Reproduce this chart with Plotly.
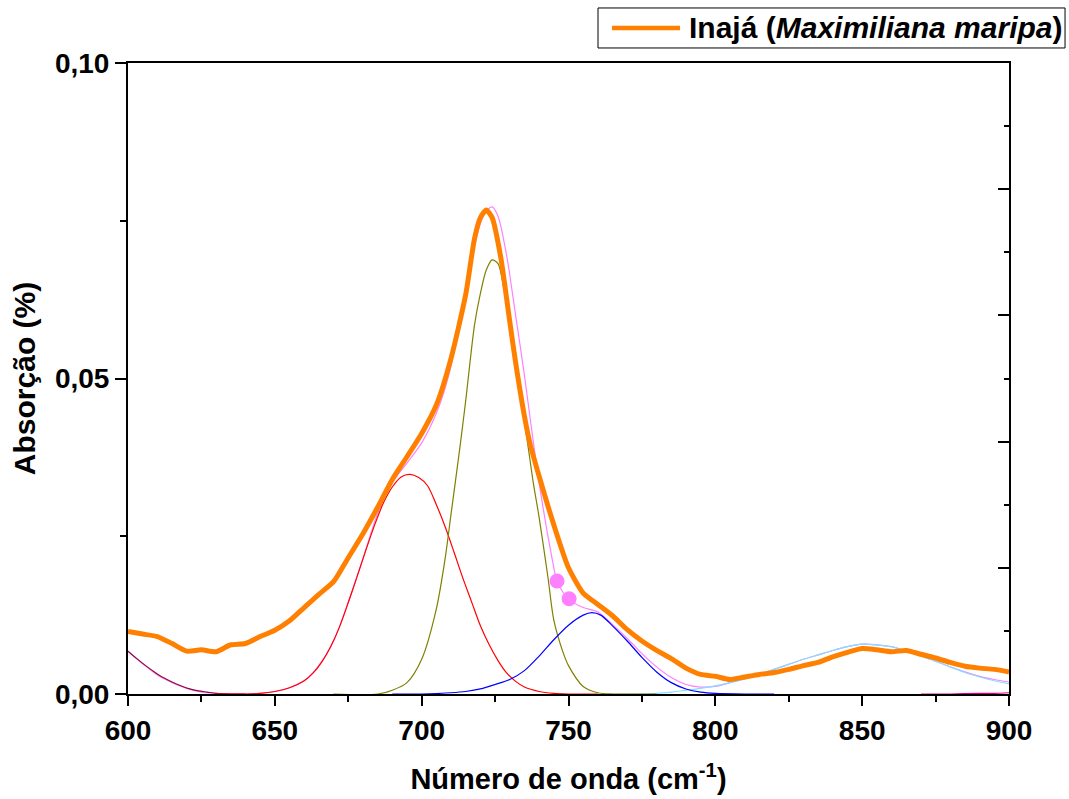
import plotly.graph_objects as go

# ---- data ----
orange_x = [600, 605, 610, 615, 620, 625, 630, 635, 640, 645, 650, 655, 660, 665, 670, 675, 680, 685,
            690, 695, 700, 705, 710, 715, 718, 720, 722, 724, 727, 730, 732, 735, 737, 740, 745, 750,
            755, 760, 765, 770, 775, 780, 785, 790, 795, 800, 805, 810, 815, 820, 825, 830, 835, 840,
            845, 850, 855, 860, 865, 870, 875, 880, 885, 890, 895, 900]
orange_y = [0.0099, 0.0095, 0.0091, 0.0080, 0.0068, 0.0070, 0.0067, 0.0078, 0.0080, 0.0091, 0.0101,
            0.0116, 0.0137, 0.0158, 0.0178, 0.0216, 0.0254, 0.0296, 0.0340, 0.0376, 0.0413, 0.0458,
            0.0532, 0.0633, 0.0722, 0.0755, 0.0767, 0.0755, 0.0690, 0.0590, 0.0525, 0.0440, 0.0395,
            0.0345, 0.0268, 0.0200, 0.0160, 0.0142, 0.0124, 0.0102, 0.0084, 0.0069, 0.0056, 0.0041,
            0.0031, 0.0028, 0.0023, 0.0027, 0.0031, 0.0034, 0.0039, 0.0045, 0.0050, 0.0059, 0.0066,
            0.0072, 0.0070, 0.0067, 0.0069, 0.0063, 0.0057, 0.0050, 0.0044, 0.0041, 0.0039, 0.0035]

wine_x = [600, 603, 606, 609, 612, 615, 618, 621, 624, 627, 630, 635, 640]
wine_y = [0.0068, 0.0056, 0.0045, 0.0035, 0.0026, 0.0019, 0.0013, 0.0008, 0.0005, 0.0003, 0.0001, 0.0, 0.0]

red_x = [630, 640, 645, 650, 655, 660, 663, 666, 669, 672, 675, 678, 681, 684, 687, 690, 693, 696,
         699, 702, 705, 708, 711, 714, 717, 720, 723, 726, 729, 732, 735, 740, 745, 750, 760]
red_y = [0.0, 0.0, 0.0001, 0.0004, 0.0010, 0.0021, 0.0033, 0.0051, 0.0075, 0.0106, 0.0145, 0.0186,
         0.0228, 0.0268, 0.0303, 0.0328, 0.0344, 0.0348, 0.0343, 0.0330, 0.0300, 0.0265, 0.0225,
         0.0184, 0.0146, 0.0108, 0.0078, 0.0053, 0.0033, 0.0020, 0.0011, 0.0004, 0.0001, 0.0, 0.0]

olive_x = [670, 685, 690, 695, 700, 705, 708, 710, 713, 715, 718, 720, 722, 724, 726, 728, 731, 734,
           736, 738, 740, 743, 745, 748, 750, 755, 760, 765, 780]
olive_y = [0.0, 0.0, 0.0006, 0.0018, 0.0055, 0.0135, 0.0215, 0.0285, 0.0390, 0.0465, 0.0585, 0.0635,
           0.0672, 0.0688, 0.0682, 0.0642, 0.0561, 0.0460, 0.0400, 0.0335, 0.0280, 0.0185, 0.0117,
           0.0068, 0.0045, 0.0012, 0.0002, 0.0, 0.0]

blue_x = [690, 700, 710, 715, 720, 725, 730, 735, 740, 745, 750, 755, 758, 761, 765, 770, 775, 780,
          785, 790, 795, 800, 810, 820]
blue_y = [0.0, 0.0, 0.0002, 0.0004, 0.0008, 0.0015, 0.0023, 0.0037, 0.0060, 0.0086, 0.0109, 0.0125,
          0.0129, 0.0125, 0.0108, 0.0084, 0.0058, 0.0035, 0.0018, 0.0008, 0.0003, 0.0001, 0.0, 0.0]

cyan_x = [760, 775, 780, 785, 790, 795, 800, 805, 810, 815, 820, 825, 830, 835, 840, 845, 850, 855,
          860, 865, 870, 875, 880, 885, 890, 895, 900]
cyan_y = [0.0, 0.0, 0.0001, 0.0003, 0.0006, 0.0009, 0.0013, 0.0018, 0.0024, 0.0031, 0.0039, 0.0047,
          0.0055, 0.0062, 0.0069, 0.0075, 0.0079, 0.0078, 0.0075, 0.0068, 0.0060, 0.0052, 0.0043,
          0.0034, 0.0027, 0.0021, 0.0016]

magenta_x = [870, 880, 890, 895, 900]
magenta_y = [0.0, 0.0, 0.0001, 0.0001, 0.0002]

fit_x = [600, 605, 610, 615, 620, 625, 630, 635, 640, 645, 650, 655, 660, 665, 670, 675, 680, 685,
         690, 695, 700, 705, 708, 710, 713, 716, 718, 720, 722, 724, 726, 729, 732, 735, 738, 741,
         744, 746, 748, 750, 755, 760, 765, 770, 775, 780, 785, 790, 795, 800, 805, 810, 815, 820,
         825, 830, 835, 840, 845, 850, 855, 860, 865, 870, 875, 880, 885, 890, 895, 900]
fit_y = [0.0068, 0.0048, 0.0030, 0.0018, 0.0009, 0.0003, 0.0001, 0.0, 0.0, 0.0001, 0.0004, 0.0010,
         0.0021, 0.0045, 0.0084, 0.0145, 0.0214, 0.0286, 0.0335, 0.0366, 0.0398, 0.0445, 0.0485,
         0.0520, 0.0590, 0.0660, 0.0710, 0.0746, 0.0765, 0.0772, 0.0757, 0.0693, 0.0600, 0.0505,
         0.0400, 0.0305, 0.0225, 0.0180, 0.0162, 0.0150, 0.0137, 0.0130, 0.0110, 0.0088, 0.0064,
         0.0043, 0.0026, 0.0015, 0.0011, 0.0012, 0.0018, 0.0024, 0.0031, 0.0039, 0.0047, 0.0055,
         0.0062, 0.0069, 0.0075, 0.0079, 0.0078, 0.0075, 0.0068, 0.0060, 0.0052, 0.0043, 0.0035,
         0.0028, 0.0023, 0.0019]

dots_x = [746.1, 750.2]
dots_y = [0.0179, 0.0151]

x_ticks = [600, 650, 700, 750, 800, 850, 900]
y_ticks = [0.0, 0.05, 0.10]
y_ticktext = ["0,00", "0,05", "0,10"]
legend_label = "Inajá (<i>Maximiliana maripa</i>)"

FONT = "Arial, Liberation Sans, sans-serif"

fig = go.Figure()


def thin(x, y, color):
    fig.add_trace(go.Scatter(x=x, y=y, mode="lines", line=dict(color=color, width=1.2, shape="spline",
                                                               smoothing=0.8),
                             showlegend=False, hoverinfo="skip"))


# cumulative fit first, components drawn over it
thin(fit_x, fit_y, "#FF80FF")
fig.add_trace(go.Scatter(x=dots_x, y=dots_y, mode="markers",
                         marker=dict(color="#FF80FF", size=15), showlegend=False))
thin(cyan_x, cyan_y, "#80E0FF")
thin(wine_x, wine_y, "#8C0A3C")
thin(red_x, red_y, "#FF0000")
thin(olive_x, olive_y, "#808000")
thin(blue_x, blue_y, "#0000FF")
thin(magenta_x, magenta_y, "#E0007F")

fig.add_trace(go.Scatter(x=orange_x, y=orange_y, mode="lines", name="Inajá (Maximiliana maripa)",
                         line=dict(color="#FF8000", width=5, shape="spline", smoothing=0.6),
                         showlegend=False))

# invisible trace for right axis
fig.add_trace(go.Scatter(x=[600], y=[0], yaxis="y2", mode="markers", marker=dict(opacity=0),
                         showlegend=False, hoverinfo="skip"))

fig.update_layout(
    width=1069, height=799,
    margin=dict(l=128, r=60, t=63, b=105),
    paper_bgcolor="white", plot_bgcolor="white",
    separators=",.",
    font=dict(family=FONT, color="black"),
    xaxis=dict(
        range=[600, 900], tickvals=x_ticks, showgrid=False, zeroline=False, automargin=False,
        showline=True, linecolor="black", linewidth=2, mirror=True,
        ticks="outside", ticklen=10, tickwidth=2, tickcolor="black",
        minor=dict(dtick=25, tick0=600, ticks="outside", ticklen=6, tickwidth=2, tickcolor="black"),
        tickfont=dict(family=FONT, size=28, weight="bold"),
        title=dict(text="Número de onda (cm<sup>-1</sup>)", standoff=24,
                   font=dict(family=FONT, size=29, weight="bold")),
    ),
    yaxis=dict(
        range=[0, 0.1], tickvals=y_ticks, ticktext=y_ticktext, showgrid=False, zeroline=False,
        automargin=False,
        showline=True, linecolor="black", linewidth=2, mirror=True,
        ticks="outside", ticklen=11, tickwidth=2, tickcolor="black",
        minor=dict(dtick=0.025, tick0=0, ticks="outside", ticklen=6, tickwidth=2, tickcolor="black"),
        tickfont=dict(family=FONT, size=28, weight="bold"),
        title=dict(text="Absorção (%)", standoff=10,
                   font=dict(family=FONT, size=30, weight="bold")),
    ),
    yaxis2=dict(
        range=[0, 0.1], overlaying="y", side="right", showgrid=False, zeroline=False,
        showticklabels=False, showline=False, dtick=0.02, tick0=0, automargin=False,
        ticks="inside", ticklen=11, tickwidth=2, tickcolor="black",
        minor=dict(dtick=0.01, tick0=0, ticks="inside", ticklen=5, tickwidth=2, tickcolor="black"),
    ),
    showlegend=False,
)

# legend box drawn by hand (paper coordinates)
fig.add_shape(type="rect", xref="paper", yref="paper", x0=0.5335, x1=1.0636, y0=1.0238, y1=1.0872,
              line=dict(color="black", width=1), fillcolor="white", layer="above")
fig.add_shape(type="line", xref="paper", yref="paper", x0=0.5494, x1=0.6266, y0=1.0555, y1=1.0555,
              line=dict(color="#FF8000", width=4.5), layer="above")
fig.add_annotation(xref="paper", yref="paper", x=0.6345, y=1.0555, xanchor="left", yanchor="middle",
                   text=legend_label, showarrow=False,
                   font=dict(family=FONT, size=30, weight="bold", color="black"))

fig.write_html("out.html")
